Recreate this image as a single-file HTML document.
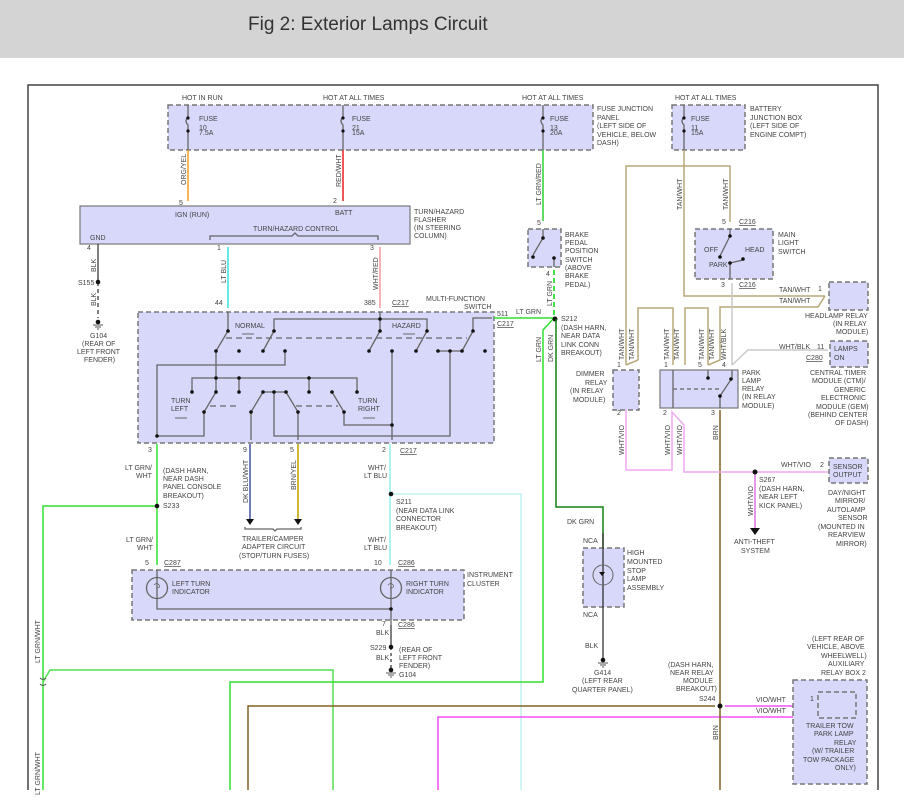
<!DOCTYPE html>
<html><head><meta charset="utf-8"><style>
html,body{margin:0;padding:0;background:#fff;}
svg{display:block;}
text{font-family:"Liberation Sans",sans-serif;font-size:7px;fill:#444;}
.t{font-size:19px;fill:#333;}
.bx{fill:#d8d8fa;stroke:#777;stroke-width:1.5;stroke-dasharray:5,3;}
.bs{fill:#d8d8fa;stroke:#777;stroke-width:1.2;}
.g{stroke:#666;stroke-width:1.3;fill:none;}
.d{fill:#111;}
</style></head><body>
<svg width="904" height="804" viewBox="0 0 904 804" xmlns="http://www.w3.org/2000/svg">
<rect x="0" y="0" width="904" height="58" fill="#d4d4d4"/>
<text x="248" y="30" class="t">Fig 2: Exterior Lamps Circuit</text>
<path d="M28 790 V85 H878 V790" stroke="#444" stroke-width="1.5" fill="none"/>

<rect class="bx" x="168" y="105" width="425" height="45"/>
<rect class="bx" x="672" y="105" width="73" height="45"/>
<text x="182" y="100">HOT IN RUN</text>
<text x="323" y="100">HOT AT ALL TIMES</text>
<text x="522" y="100">HOT AT ALL TIMES</text>
<text x="675" y="100">HOT AT ALL TIMES</text>
<g class="g">
<path d="M188 105V117 q-4 4 0 8 V150"/><path d="M343 105V117 q-4 4 0 8 V150"/>
<path d="M543 105V117 q-4 4 0 8 V150"/><path d="M684 105V117 q-4 4 0 8 V150"/>
</g>
<g class="d"><circle cx="188" cy="118" r="1.6"/><circle cx="188" cy="131" r="1.6"/><circle cx="343" cy="118" r="1.6"/><circle cx="343" cy="131" r="1.6"/><circle cx="543" cy="118" r="1.6"/><circle cx="543" cy="131" r="1.6"/><circle cx="684" cy="118" r="1.6"/><circle cx="684" cy="131" r="1.6"/></g>
<text x="199" y="121">FUSE</text><text x="199" y="130">10</text><text x="199" y="135">7.5A</text>
<text x="352" y="121">FUSE</text><text x="352" y="130">21</text><text x="352" y="135">15A</text>
<text x="550" y="121">FUSE</text><text x="550" y="130">13</text><text x="550" y="135">20A</text>
<text x="691" y="121">FUSE</text><text x="691" y="130">11</text><text x="691" y="135">15A</text>
<text x="597" y="111">FUSE JUNCTION</text><text x="597" y="120">PANEL</text><text x="597" y="128">(LEFT SIDE OF</text><text x="597" y="137">VEHICLE, BELOW</text><text x="597" y="145">DASH)</text>
<text x="750" y="111">BATTERY</text><text x="750" y="120">JUNCTION BOX</text><text x="750" y="128">(LEFT SIDE OF</text><text x="750" y="137">ENGINE COMPT)</text>

<path d="M188 150V201" stroke="#f0a020" stroke-width="1.5"/>
<path d="M343 150V201" stroke="#e82020" stroke-width="1.5"/>
<path d="M543 150V221" stroke="#30d030" stroke-width="1.5"/>
<text transform="translate(186,185) rotate(-90)">ORG/YEL</text>
<text transform="translate(341,187) rotate(-90)">RED/WHT</text>
<text transform="translate(541,205) rotate(-90)">LT GRN/RED</text>

<rect class="bs" x="80" y="206" width="330" height="38"/>
<text x="179" y="205">5</text><text x="333" y="203">2</text>
<text x="175" y="217">IGN (RUN)</text><text x="335" y="215">BATT</text>
<text x="253" y="231">TURN/HAZARD CONTROL</text>
<text x="90" y="240">GND</text>
<path d="M210 240v-4h82l3-3 3 3h80v4" class="g" stroke-width="0.8"/>
<text x="414" y="214">TURN/HAZARD</text><text x="414" y="222">FLASHER</text><text x="414" y="230">(IN STEERING</text><text x="414" y="238">COLUMN)</text>
<text x="87" y="250">4</text><text x="217" y="250">1</text><text x="370" y="250">3</text>
<path d="M98 244V282" stroke="#555" stroke-width="1.5"/>
<path d="M98 282V318" stroke="#555" stroke-width="1.5" stroke-dasharray="4,3"/>
<circle class="d" cx="98" cy="282" r="2.3"/><circle class="d" cx="98" cy="322" r="2.3"/>
<path d="M93 325h10M95 327h6M97 329h2" stroke="#555"/>
<text transform="translate(96,272) rotate(-90)">BLK</text>
<text transform="translate(96,306) rotate(-90)">BLK</text>
<text x="78" y="285">S155</text>
<text x="90" y="338">G104</text><text x="82" y="346">(REAR OF</text><text x="77" y="354">LEFT FRONT</text><text x="84" y="362">FENDER)</text>
<path d="M228 247V308" stroke="#30e0e0" stroke-width="1.5"/>
<path d="M380 247V308" stroke="#f08080" stroke-width="1.2"/>
<text transform="translate(226,283) rotate(-90)">LT BLU</text>
<text transform="translate(378,290) rotate(-90)">WHT/RED</text>
<text x="215" y="305">44</text><text x="364" y="305">385</text>
<text x="392" y="305" text-decoration="underline">C217</text>
<text x="426" y="301">MULTI-FUNCTION</text><text x="464" y="309">SWITCH</text>

<rect class="bx" x="138" y="312" width="356" height="131"/>
<g class="g">
<path d="M228 312V331L216 351"/>
<path d="M274 331V319H427V331L416 351"/>
<path d="M274 331L263 351"/>
<path d="M380 312V331L369 351"/>
<path d="M473 331V318H492"/>
<path d="M473 331L462 351"/>
<path d="M438 351H462"/>
<path d="M285 351V365H157V437"/>
<path d="M216 351V392"/>
<path d="M192 392V378H357V392"/><path d="M239 378V392"/><path d="M309 378V392"/>
<path d="M216 392L204 412V436H157"/>
<path d="M263 392H286"/>
<path d="M263 392L251 412V440"/>
<path d="M286 392L298 412V440"/>
<path d="M274 392V436H450V351"/>
<path d="M332 392L344 412V425H392"/>
<path d="M392 351V440"/>
<path d="M226 338H467" stroke-dasharray="6,4"/>
<path d="M210 406H240M296 406H338" stroke-dasharray="6,4"/>
</g>
<g class="d">
<circle cx="228" cy="331" r="1.8"/><circle cx="274" cy="331" r="1.8"/><circle cx="380" cy="331" r="1.8"/><circle cx="380" cy="319" r="1.8"/><circle cx="427" cy="331" r="1.8"/><circle cx="473" cy="331" r="1.8"/>
<circle cx="216" cy="351" r="1.8"/><circle cx="239" cy="351" r="1.8"/><circle cx="263" cy="351" r="1.8"/><circle cx="285" cy="351" r="1.8"/><circle cx="369" cy="351" r="1.8"/><circle cx="392" cy="351" r="1.8"/><circle cx="416" cy="351" r="1.8"/><circle cx="438" cy="351" r="1.8"/><circle cx="450" cy="351" r="1.8"/><circle cx="462" cy="351" r="1.8"/><circle cx="485" cy="351" r="1.8"/>
<circle cx="216" cy="378" r="1.8"/><circle cx="239" cy="378" r="1.8"/><circle cx="309" cy="378" r="1.8"/>
<circle cx="192" cy="392" r="1.8"/><circle cx="216" cy="392" r="1.8"/><circle cx="239" cy="392" r="1.8"/><circle cx="263" cy="392" r="1.8"/><circle cx="274" cy="392" r="1.8"/><circle cx="286" cy="392" r="1.8"/><circle cx="309" cy="392" r="1.8"/><circle cx="332" cy="392" r="1.8"/><circle cx="357" cy="392" r="1.8"/>
<circle cx="204" cy="412" r="1.8"/><circle cx="251" cy="412" r="1.8"/><circle cx="298" cy="412" r="1.8"/><circle cx="344" cy="412" r="1.8"/><circle cx="392" cy="425" r="1.8"/><circle cx="157" cy="436" r="1.8"/>
</g>
<text x="235" y="328">NORMAL</text><path d="M242 334h12" stroke="#666"/>
<text x="392" y="328">HAZARD</text><path d="M403 334h12" stroke="#666"/>
<text x="171" y="403">TURN</text><text x="171" y="411">LEFT</text><path d="M175 418h12" stroke="#666"/>
<text x="358" y="403">TURN</text><text x="358" y="411">RIGHT</text><path d="M363 418h12" stroke="#666"/>
<text x="497" y="316">511</text><text x="497" y="326" text-decoration="underline">C217</text>
<text x="148" y="452">3</text><text x="243" y="452">9</text><text x="290" y="452">5</text><text x="382" y="452">2</text>
<text x="400" y="453" text-decoration="underline">C217</text>

<path d="M157 444V565" stroke="#30e030" stroke-width="1.5"/>
<path d="M157 506H43V790" stroke="#30e030" stroke-width="1.5" fill="none"/>
<circle class="d" cx="157" cy="506" r="2.3"/>
<text x="125" y="470">LT GRN/</text><text x="136" y="478">WHT</text>
<text x="163" y="473">(DASH HARN,</text><text x="163" y="481">NEAR DASH</text><text x="163" y="489">PANEL CONSOLE</text><text x="163" y="498">BREAKOUT)</text><text x="163" y="508">S233</text>
<text x="126" y="542">LT GRN/</text><text x="137" y="550">WHT</text>
<path d="M250 444V520" stroke="#6070b0" stroke-width="1.8"/>
<path d="M298 444V520" stroke="#c8b020" stroke-width="1.8"/>
<path d="M246 519h8l-4 6z M294 519h8l-4 6z" fill="#111"/>
<text transform="translate(248,503) rotate(-90)">DK BLU/WHT</text>
<text transform="translate(296,490) rotate(-90)">BRN/YEL</text>
<path d="M245 527v2h28l2 2 2-2h24v-2" class="g" stroke-width="0.8"/>
<text x="242" y="541">TRAILER/CAMPER</text><text x="242" y="549">ADAPTER CIRCUIT</text><text x="239" y="558">(STOP/TURN FUSES)</text>
<path d="M390 444V565" stroke="#90f0f0" stroke-width="1.5"/>
<path d="M390 494H521V790" stroke="#c0f0f0" stroke-width="1.5" fill="none"/>
<circle class="d" cx="391" cy="494" r="2.3"/>
<text x="368" y="470">WHT/</text><text x="364" y="478">LT BLU</text>
<text x="396" y="504">S211</text><text x="396" y="513">(NEAR DATA LINK</text><text x="396" y="521">CONNECTOR</text><text x="396" y="530">BREAKOUT)</text>
<text x="368" y="542">WHT/</text><text x="364" y="550">LT BLU</text>

<text x="145" y="565">5</text><text x="164" y="565" text-decoration="underline">C287</text>
<text x="374" y="565">10</text><text x="398" y="565" text-decoration="underline">C286</text>
<rect class="bx" x="132" y="570" width="332" height="50"/>
<g class="g">
<circle cx="157" cy="588" r="10.5"/><circle cx="391" cy="588" r="10.5"/>
<path d="M157 570V609H391V570M391 609V625"/>
<path d="M157 582v12M154 585q3 -3 5 0q2 3 -3 3M391 582v12M388 585q3 -3 5 0q2 3 -3 3" stroke-width="0.8"/>
</g>
<circle class="d" cx="391" cy="609" r="1.8"/>
<text x="172" y="586">LEFT TURN</text><text x="172" y="594">INDICATOR</text>
<text x="406" y="586">RIGHT TURN</text><text x="406" y="594">INDICATOR</text>
<text x="467" y="577">INSTRUMENT</text><text x="467" y="586">CLUSTER</text>
<text x="382" y="626">7</text><text x="398" y="627" text-decoration="underline">C286</text>
<path d="M391 625V647" stroke="#555" stroke-width="1.5"/>
<path d="M391 647V668" stroke="#555" stroke-width="1.5" stroke-dasharray="3,3"/>
<circle class="d" cx="391" cy="647" r="2.3"/><circle class="d" cx="391" cy="670" r="2.3"/>
<path d="M386 673h10M388 675h6M390 677h2" stroke="#555"/>
<text x="376" y="635">BLK</text><text x="370" y="650">S229</text><text x="376" y="660">BLK</text>
<text x="399" y="652">(REAR OF</text><text x="399" y="660">LEFT FRONT</text><text x="399" y="668">FENDER)</text><text x="399" y="677">G104</text>

<text transform="translate(40,663) rotate(-90)">LT GRN/WHT</text>
<text transform="translate(40,795) rotate(-90)">LT GRN/WHT</text>
<path d="M43 682L50 670H333V790" stroke="#50e050" stroke-width="1.5" fill="none"/>
<path d="M40 678q3 3 6 0M40 684q3 3 6 0" stroke="#555" fill="none"/>
<path d="M230 790V682H543V330L554 318" stroke="#30e030" stroke-width="1.5" fill="none"/>
<path d="M248 790V706H715" stroke="#806020" stroke-width="1.5" fill="none"/>
<path d="M438 790V717H802L815 706" stroke="#f030f0" stroke-width="1.3" fill="none"/>
<path d="M725 706H815" stroke="#f030f0" stroke-width="1.3"/>
<path d="M720 410V790" stroke="#806020" stroke-width="1.5"/>
<circle class="d" cx="720" cy="706" r="2.5"/>
<text transform="translate(718,440) rotate(-90)">BRN</text>
<text transform="translate(718,740) rotate(-90)">BRN</text>
<text x="668" y="667">(DASH HARN,</text><text x="670" y="675">NEAR RELAY</text><text x="683" y="683">MODULE</text><text x="676" y="691">BREAKOUT)</text><text x="699" y="701">S244</text>
<text x="756" y="702">VIO/WHT</text><text x="756" y="713">VIO/WHT</text>

<text x="537" y="225">5</text>
<rect class="bx" x="528" y="229" width="33" height="38"/>
<g class="g"><path d="M543 229V238L533 255M554 258V267"/></g>
<circle class="d" cx="543" cy="238" r="1.8"/><circle class="d" cx="533" cy="257" r="1.8"/><circle class="d" cx="554" cy="258" r="1.8"/>
<text x="565" y="237">BRAKE</text><text x="565" y="245">PEDAL</text><text x="565" y="253">POSITION</text><text x="565" y="262">SWITCH</text><text x="565" y="270">(ABOVE</text><text x="565" y="278">BRAKE</text><text x="565" y="287">PEDAL)</text>
<text x="546" y="276">4</text>
<path d="M554 270V318" stroke="#30e030" stroke-width="1.8" stroke-dasharray="5,3"/>
<text transform="translate(552,306) rotate(-90)">LT GRN</text>
<path d="M494 318H554" stroke="#30e030" stroke-width="1.5"/>
<text x="516" y="314">LT GRN</text>
<circle class="d" cx="555" cy="319" r="2.5"/>
<text x="561" y="321">S212</text><text x="561" y="330">(DASH HARN,</text><text x="561" y="338">NEAR DATA</text><text x="561" y="347">LINK CONN</text><text x="561" y="355">BREAKOUT)</text>
<text transform="translate(541,362) rotate(-90)">LT GRN</text>
<text transform="translate(553,362) rotate(-90)">DK GRN</text>
<path d="M556 319V507H603V548" stroke="#108010" stroke-width="1.5" fill="none"/>
<text x="567" y="524">DK GRN</text>
<text x="583" y="543">NCA</text>
<rect class="bx" x="583" y="548" width="41" height="59"/>
<path d="M603 533V660" stroke="#333" stroke-width="1.3"/>
<circle cx="603" cy="575" r="10" stroke="#666" fill="none"/>
<path d="M599 572h6l-3 4z" fill="#111"/>
<text x="627" y="555">HIGH</text><text x="627" y="564">MOUNTED</text><text x="627" y="573">STOP</text><text x="627" y="581">LAMP</text><text x="627" y="590">ASSEMBLY</text>
<text x="583" y="617">NCA</text>
<text x="585" y="648">BLK</text>
<circle class="d" cx="603" cy="660" r="2.3"/>
<path d="M598 663h10M600 665h6M602 667h2" stroke="#555"/>
<text x="594" y="675">G414</text><text x="582" y="683">(LEFT REAR</text><text x="572" y="692">QUARTER PANEL)</text>

<path d="M684 150V296H825" stroke="#b8a878" stroke-width="1.5" fill="none"/>
<path d="M730 222V166H626V365" stroke="#b8a878" stroke-width="1.5" fill="none"/>
<path d="M825 296L818 307H720V360L708 365" stroke="#b8a878" stroke-width="1.5" fill="none"/>
<path d="M638 360V308H673V365M638 360L626 365M685 365V308H708V365" stroke="#b8a878" stroke-width="1.5" fill="none"/>
<text transform="translate(682,210) rotate(-90)">TAN/WHT</text>
<text transform="translate(728,210) rotate(-90)">TAN/WHT</text>
<text x="722" y="224">5</text><text x="739" y="224" text-decoration="underline">C216</text>
<rect class="bx" x="695" y="229" width="78" height="50"/>
<g class="g"><path d="M730 229V236L720 256M730 263V279M730 263L743 260"/></g>
<circle class="d" cx="730" cy="236" r="1.8"/><circle class="d" cx="720" cy="257" r="1.8"/><circle class="d" cx="730" cy="263" r="1.8"/><circle class="d" cx="743" cy="259" r="1.8"/>
<text x="704" y="252">OFF</text><text x="745" y="252">HEAD</text><text x="709" y="267">PARK</text>
<text x="778" y="237">MAIN</text><text x="778" y="245">LIGHT</text><text x="778" y="254">SWITCH</text>
<text x="721" y="287">3</text><text x="739" y="287" text-decoration="underline">C216</text>
<path d="M732 283V365" stroke="#c8c8c8" stroke-width="1.5"/>
<path d="M828 350H748L732 365" stroke="#c8c8c8" stroke-width="1.5" fill="none"/>
<text x="779" y="292">TAN/WHT</text><text x="779" y="303">TAN/WHT</text><text x="818" y="291">1</text>
<rect class="bx" x="829" y="282" width="39" height="28"/>
<text x="805" y="318">HEADLAMP RELAY</text><text x="833" y="326">(IN RELAY</text><text x="836" y="334">MODULE)</text>
<text x="779" y="349">WHT/BLK</text><text x="817" y="349">11</text>
<text x="806" y="360" text-decoration="underline">C280</text>
<rect class="bx" x="830" y="341" width="38" height="26"/>
<text x="834" y="351">LAMPS</text><text x="834" y="360">ON</text>
<text x="810" y="375">CENTRAL TIMER</text><text x="812" y="383">MODULE (CTM)/</text><text x="834" y="392">GENERIC</text><text x="821" y="400">ELECTRONIC</text><text x="816" y="409">MODULE (GEM)</text><text x="808" y="417">(BEHIND CENTER</text><text x="835" y="425">OF DASH)</text>
<text transform="translate(624,360) rotate(-90)">TAN/WHT</text><text transform="translate(634,360) rotate(-90)">TAN/WHT</text>
<text transform="translate(669,360) rotate(-90)">TAN/WHT</text><text transform="translate(679,360) rotate(-90)">TAN/WHT</text>
<text transform="translate(704,360) rotate(-90)">TAN/WHT</text><text transform="translate(714,360) rotate(-90)">TAN/WHT</text>
<text transform="translate(726,360) rotate(-90)">WHT/BLK</text>
<text x="617" y="367">1</text><text x="664" y="367">1</text><text x="698" y="367">5</text><text x="722" y="367">4</text>
<rect class="bx" x="613" y="370" width="26" height="40"/>
<text x="576" y="376">DIMMER</text><text x="585" y="385">RELAY</text><text x="570" y="393">(IN RELAY</text><text x="573" y="402">MODULE)</text>
<rect class="bs" x="660" y="370" width="78" height="38"/>
<g class="g"><path d="M673 370V408M708 370V378M732 370V378L720 396V408"/><path d="M673 389H720" stroke-dasharray="4,3"/></g>
<circle class="d" cx="708" cy="378" r="1.8"/><circle class="d" cx="731" cy="379" r="1.8"/><circle class="d" cx="720" cy="396" r="1.8"/>
<text x="742" y="375">PARK</text><text x="742" y="383">LAMP</text><text x="742" y="391">RELAY</text><text x="742" y="399">(IN RELAY</text><text x="742" y="408">MODULE)</text>
<text x="617" y="415">2</text><text x="663" y="415">2</text><text x="711" y="415">3</text>
<path d="M626 410V470H672V412L684 425V472H828" stroke="#f0a8f0" stroke-width="1.5" fill="none"/>
<path d="M755 472V528" stroke="#e070e0" stroke-width="1.5"/>
<path d="M750 528h10l-5 7z" fill="#111"/>
<circle class="d" cx="755" cy="472" r="2.5"/>
<text transform="translate(624,455) rotate(-90)">WHT/VIO</text>
<text transform="translate(670,455) rotate(-90)">WHT/VIO</text><text transform="translate(682,455) rotate(-90)">WHT/VIO</text>
<text transform="translate(753,516) rotate(-90)">WHT/VIO</text>
<text x="781" y="467">WHT/VIO</text><text x="820" y="467">2</text>
<rect class="bx" x="829" y="458" width="39" height="25"/>
<text x="833" y="469">SENSOR</text><text x="833" y="477">OUTPUT</text>
<text x="759" y="482">S267</text><text x="759" y="491">(DASH HARN,</text><text x="759" y="499">NEAR LEFT</text><text x="759" y="508">KICK PANEL)</text>
<text x="734" y="544">ANTI-THEFT</text><text x="741" y="553">SYSTEM</text>
<text x="828" y="495">DAY/NIGHT</text><text x="835" y="503">MIRROR/</text><text x="827" y="512">AUTOLAMP</text><text x="838" y="520">SENSOR</text><text x="818" y="529">(MOUNTED IN</text><text x="828" y="537">REARVIEW</text><text x="836" y="546">MIRROR)</text>
<text x="812" y="641">(LEFT REAR OF</text><text x="807" y="649">VEHICLE, ABOVE</text><text x="821" y="658">WHEELWELL)</text><text x="828" y="666">AUXILIARY</text><text x="821" y="675">RELAY BOX 2</text>
<rect class="bx" x="793" y="680" width="74" height="104"/>
<rect class="bx" x="818" y="692" width="38" height="26"/>
<text x="810" y="701">1</text>
<text x="806" y="728">TRAILER TOW</text><text x="814" y="736">PARK LAMP</text><text x="834" y="745">RELAY</text><text x="812" y="753">(W/ TRAILER</text><text x="803" y="762">TOW PACKAGE</text><text x="835" y="770">ONLY)</text>
</svg>
</body></html>
